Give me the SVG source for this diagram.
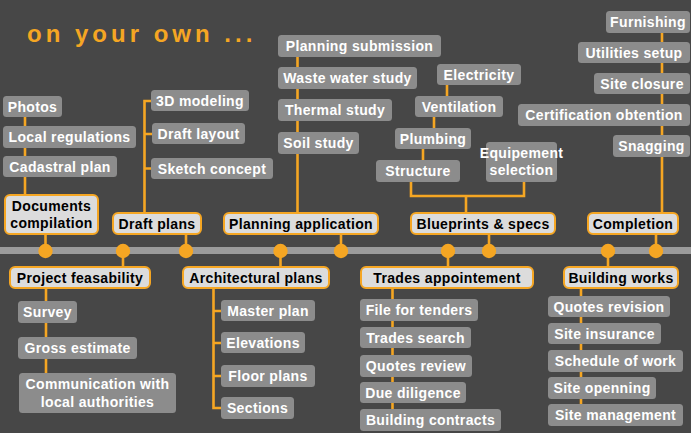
<svg xmlns="http://www.w3.org/2000/svg" width="691" height="433" viewBox="0 0 691 433">
  <style>
    .bg { fill: #474747; }
    .title { font-family: "Liberation Sans", Arial, sans-serif; font-weight: bold; font-size: 24px; letter-spacing: 4px; fill: #f5a623; }
    .sub rect { fill: #8c8c8c; }
    .sub text { font-family: "Liberation Sans", Arial, sans-serif; font-weight: bold; font-size: 14px; letter-spacing: 0.35px; fill: #ffffff; text-anchor: middle; }
    .main rect { fill: #dcdcdc; stroke: #f5a623; stroke-width: 2; }
    .main text { font-family: "Liberation Sans", Arial, sans-serif; font-weight: bold; font-size: 14px; letter-spacing: 0.35px; fill: #000000; text-anchor: middle; }
    .wire { fill: none; stroke: #f5a623; stroke-width: 2.6; }
    .dot { fill: #f5a623; }
  </style>

  <rect class="bg" x="0" y="0" width="691" height="433"/>

  <text class="title" x="27" y="42">on your own ...</text>

  <!-- timeline bar -->
  <rect x="0" y="247" width="691" height="7" fill="#9b9b9b"/>

  <!-- connectors -->
  <g id="connectors" class="wire">
    <path d="M25,106 V194"/>
    <path d="M45.5,235 V251"/>
    <path d="M151,101 H144.5 V212 M144.5,134 H152 M144.5,168.5 H151"/>
    <path d="M186,235 V251"/>
    <path d="M297.5,46 V212"/>
    <path d="M341,235 V251"/>
    <path d="M123,251 V266"/>
    <path d="M46,289 V373"/>
    <path d="M280.5,251 V266"/>
    <path d="M213.5,289 V408 H221 M213.5,311 H221 M213.5,343 H221 M213.5,376 H221"/>
    <path d="M447,85 V96 M434,117 V128 M423,149 V160"/>
    <path d="M411,182 V196 H524 V182 M466,196 V212"/>
    <path d="M489,235 V251"/>
    <path d="M448,251 V266"/>
    <path d="M392.5,288 V409"/>
    <path d="M662,22 V212"/>
    <path d="M656,235 V251"/>
    <path d="M608,251 V266"/>
    <path d="M581,289 V404"/>
  </g>

  <!-- timeline milestones -->
  <g id="milestones" class="dot">
    <circle cx="45.5" cy="251" r="7.2"/>
    <circle cx="123" cy="251" r="7.2"/>
    <circle cx="186" cy="251" r="7.2"/>
    <circle cx="280.5" cy="251" r="7.2"/>
    <circle cx="341" cy="251" r="7.2"/>
    <circle cx="448" cy="251" r="7.2"/>
    <circle cx="489" cy="251" r="7.2"/>
    <circle cx="608" cy="251" r="7.2"/>
    <circle cx="656" cy="251" r="7.2"/>
  </g>

  <!-- Documents compilation -->
  <g id="photos" class="sub"><rect x="3" y="96" width="59" height="21" rx="3.5"/><text x="32.5" y="111.5">Photos</text></g>
  <g id="local-regulations" class="sub"><rect x="3" y="126" width="133" height="22" rx="3.5"/><text x="69.5" y="142">Local regulations</text></g>
  <g id="cadastral-plan" class="sub"><rect x="3" y="156" width="114" height="21" rx="3.5"/><text x="60" y="171.5">Cadastral plan</text></g>
  <g id="documents-compilation" class="main"><rect x="5" y="195" width="93" height="39" rx="5"/><text x="51.5" y="211">Documents</text><text x="51.5" y="228">compilation</text></g>

  <!-- Draft plans -->
  <g id="3d-modeling" class="sub"><rect x="151" y="90" width="98" height="21" rx="3.5"/><text x="200" y="105.5">3D modeling</text></g>
  <g id="draft-layout" class="sub"><rect x="152" y="123" width="93" height="21" rx="3.5"/><text x="198.5" y="138.5">Draft layout</text></g>
  <g id="sketch-concept" class="sub"><rect x="151" y="158" width="122" height="21" rx="3.5"/><text x="212" y="173.5">Sketch concept</text></g>
  <g id="draft-plans" class="main"><rect x="113" y="213" width="88" height="21" rx="5"/><text x="157" y="228.5">Draft plans</text></g>

  <!-- Planning application -->
  <g id="planning-submission" class="sub"><rect x="278" y="35" width="163" height="22" rx="3.5"/><text x="359.5" y="51">Planning submission</text></g>
  <g id="waste-water-study" class="sub"><rect x="278" y="67" width="139" height="22" rx="3.5"/><text x="347.5" y="83">Waste water study</text></g>
  <g id="thermal-study" class="sub"><rect x="278" y="99" width="114" height="22" rx="3.5"/><text x="335" y="115">Thermal study</text></g>
  <g id="soil-study" class="sub"><rect x="278" y="132" width="81" height="22" rx="3.5"/><text x="318.5" y="148">Soil study</text></g>
  <g id="planning-application" class="main"><rect x="224" y="213" width="154" height="21" rx="5"/><text x="301" y="228.5">Planning application</text></g>

  <!-- Blueprints & specs -->
  <g id="electricity" class="sub"><rect x="437" y="64" width="84" height="21" rx="3.5"/><text x="479" y="79.5">Electricity</text></g>
  <g id="ventilation" class="sub"><rect x="415" y="96" width="88" height="21" rx="3.5"/><text x="459" y="111.5">Ventilation</text></g>
  <g id="plumbing" class="sub"><rect x="395" y="128" width="76" height="21" rx="3.5"/><text x="433" y="143.5">Plumbing</text></g>
  <g id="structure" class="sub"><rect x="376" y="160" width="84" height="22" rx="3.5"/><text x="418" y="176">Structure</text></g>
  <g id="equipement-selection" class="sub"><rect x="486" y="142" width="71" height="40" rx="3.5"/><text x="521.5" y="157.5">Equipement</text><text x="521.5" y="175">selection</text></g>
  <g id="blueprints-specs" class="main"><rect x="411" y="213" width="144" height="21" rx="5"/><text x="483" y="228.5">Blueprints &amp; specs</text></g>

  <!-- Completion -->
  <g id="furnishing" class="sub"><rect x="606" y="11" width="84" height="22" rx="3.5"/><text x="648" y="27">Furnishing</text></g>
  <g id="utilities-setup" class="sub"><rect x="578" y="42" width="112" height="21" rx="3.5"/><text x="634" y="57.5">Utilities setup</text></g>
  <g id="site-closure" class="sub"><rect x="594" y="73" width="96" height="21" rx="3.5"/><text x="642" y="88.5">Site closure</text></g>
  <g id="certification-obtention" class="sub"><rect x="518" y="104" width="172" height="22" rx="3.5"/><text x="604" y="120">Certification obtention</text></g>
  <g id="snagging" class="sub"><rect x="613" y="135" width="77" height="22" rx="3.5"/><text x="651.5" y="151">Snagging</text></g>
  <g id="completion" class="main"><rect x="588" y="213" width="90" height="21" rx="5"/><text x="633" y="228.5">Completion</text></g>

  <!-- Project feasability -->
  <g id="project-feasability" class="main"><rect x="10" y="267" width="140" height="21" rx="5"/><text x="80" y="282.5">Project feasability</text></g>
  <g id="survey" class="sub"><rect x="18" y="301" width="59" height="22" rx="3.5"/><text x="47.5" y="317">Survey</text></g>
  <g id="gross-estimate" class="sub"><rect x="18" y="337" width="119" height="22" rx="3.5"/><text x="77.5" y="353">Gross estimate</text></g>
  <g id="communication" class="sub"><rect x="19" y="373" width="157" height="40" rx="3.5"/><text x="97.5" y="389">Communication with</text><text x="97.5" y="406.5">local authorities</text></g>

  <!-- Architectural plans -->
  <g id="architectural-plans" class="main"><rect x="183" y="267" width="146" height="21" rx="5"/><text x="256" y="282.5">Architectural plans</text></g>
  <g id="master-plan" class="sub"><rect x="221" y="300" width="94" height="21" rx="3.5"/><text x="268" y="315.5">Master plan</text></g>
  <g id="elevations" class="sub"><rect x="221" y="332" width="84" height="21" rx="3.5"/><text x="263" y="347.5">Elevations</text></g>
  <g id="floor-plans" class="sub"><rect x="221" y="365" width="94" height="22" rx="3.5"/><text x="268" y="381">Floor plans</text></g>
  <g id="sections" class="sub"><rect x="221" y="397" width="73" height="22" rx="3.5"/><text x="257.5" y="413">Sections</text></g>

  <!-- Trades appointement -->
  <g id="trades-appointement" class="main"><rect x="361" y="267" width="172" height="21" rx="5"/><text x="447" y="282.5">Trades appointement</text></g>
  <g id="file-for-tenders" class="sub"><rect x="360" y="299" width="118" height="22" rx="3.5"/><text x="419" y="315">File for tenders</text></g>
  <g id="trades-search" class="sub"><rect x="360" y="327" width="111" height="21" rx="3.5"/><text x="415.5" y="342.5">Trades search</text></g>
  <g id="quotes-review" class="sub"><rect x="360" y="355" width="112" height="22" rx="3.5"/><text x="416" y="371">Quotes review</text></g>
  <g id="due-diligence" class="sub"><rect x="360" y="382" width="106" height="21" rx="3.5"/><text x="413" y="397.5">Due diligence</text></g>
  <g id="building-contracts" class="sub"><rect x="360" y="409" width="141" height="22" rx="3.5"/><text x="430.5" y="425">Building contracts</text></g>

  <!-- Building works -->
  <g id="building-works" class="main"><rect x="564" y="267" width="114" height="21" rx="5"/><text x="621" y="282.5">Building works</text></g>
  <g id="quotes-revision" class="sub"><rect x="548" y="296" width="122" height="21" rx="3.5"/><text x="609" y="311.5">Quotes revision</text></g>
  <g id="site-insurance" class="sub"><rect x="548" y="323" width="113" height="21" rx="3.5"/><text x="604.5" y="338.5">Site insurance</text></g>
  <g id="schedule-of-work" class="sub"><rect x="548" y="350" width="135" height="22" rx="3.5"/><text x="615.5" y="366">Schedule of work</text></g>
  <g id="site-openning" class="sub"><rect x="548" y="377" width="108" height="22" rx="3.5"/><text x="602" y="393">Site openning</text></g>
  <g id="site-management" class="sub"><rect x="548" y="404" width="135" height="22" rx="3.5"/><text x="615.5" y="420">Site management</text></g>
</svg>
